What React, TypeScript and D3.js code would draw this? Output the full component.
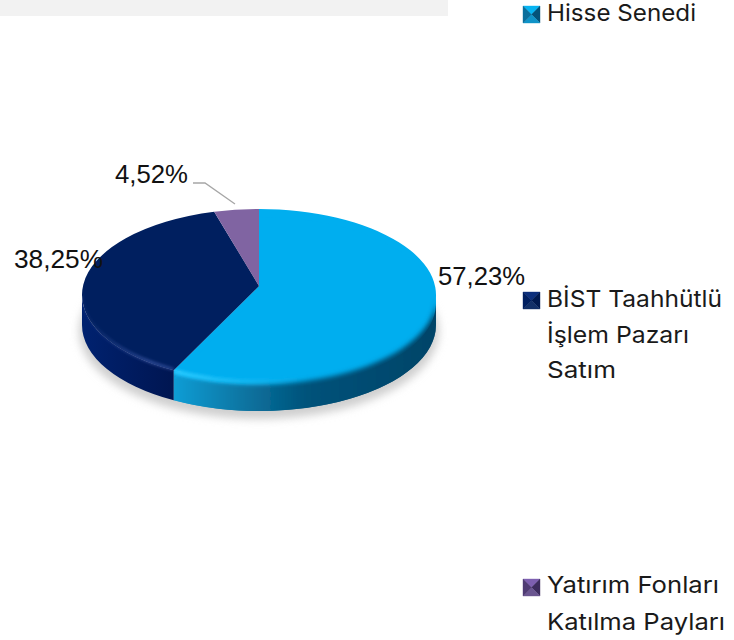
import React from "react";
import * as d3 from "d3";

const categories = ["Hisse Senedi", "BİST Taahhütlü İşlem Pazarı Satım", "Yatırım Fonları Katılma Payları"];
const values = [57.23, 38.25, 4.52];
const valueLabels = ["57,23%", "38,25%", "4,52%"];
const labelWidths = [87, 89, 73];
const topColors = ["#00aeef", "#001f5f", "#8064a2"];
const legendLines = [["Hisse Senedi"], ["BİST Taahhütlü", "İşlem Pazarı", "Satım"], ["Yatırım Fonları", "Katılma Payları"]];
const legendLineWidths = [[149], [175, 142, 69], [172, 178]];
const legendBaselines = [[21], [307, 343, 378], [593, 630]];
const markerTops = [6, 292, 579];
const markerShades = [
  ["#06b4f2", "#03527a", "#0f93c8", "#0a6f9c"],
  ["#0c2f7c", "#001a50", "#123068", "#001f60"],
  ["#7d5fb0", "#3d2c5e", "#6a5590", "#4f3b73"],
];
const labelPos = [[438, 285], [14, 268], [115, 183]];
const leader = [[193, 183], [205, 183], [235, 204]];

const W = 734, H = 640;
const cx = 259, cy = 295, rx = 177, ry = 86, depth = 30, apexX = 259, apexY = 286;
const b = (apexY - cy) / ry;

// perspective: maps the true circle angle on to the ellipse, keeping the centre at the apex
const rim = (a: number): [number, number] => {
  const u = Math.sin(a), v = -Math.cos(a);
  const den = 1 + b * v;
  return [cx + (rx * u * Math.sqrt(1 - b * b)) / den, cy + (ry * (v + b)) / den];
};

function sector(a0: number, a1: number) {
  const [x0, y0] = rim(a0);
  const [x1, y1] = rim(a1);
  const large = a1 - a0 > Math.PI ? 1 : 0;
  return `M${apexX},${apexY}L${x0},${y0}A${rx},${ry} 0 ${large} 1 ${x1},${y1}Z`;
}

const wall = (p: [number, number], q: [number, number]) =>
  `M${p[0]},${p[1]}A${rx},${ry} 0 0 1 ${q[0]},${q[1]}L${q[0]},${q[1] + depth}A${rx},${ry} 0 0 0 ${p[0]},${p[1] + depth}Z`;
const edge = (p: [number, number], q: [number, number]) => `M${p[0]},${p[1]}A${rx},${ry} 0 0 1 ${q[0]},${q[1]}`;

export default function App() {
  React.useEffect(() => {
    document.body.style.margin = "0";
  }, []);
  const arcs = d3.pie<number>().sort(null)(values);
  const line = d3.line();
  const right: [number, number] = [cx + rx, cy];
  const left: [number, number] = [cx - rx, cy];
  const split = rim(arcs[0].endAngle);
  const blueWall = wall(right, split);
  const navyWall = wall(split, left);
  const blueTop = sector(arcs[0].startAngle, arcs[0].endAngle);
  return (
    <svg width={W} height={H} style={{ display: "block", position: "absolute", left: 0, top: 0 }}>
      <defs>
        <filter id="blurS" x="-20%" y="-20%" width="140%" height="140%"><feGaussianBlur stdDeviation="4" /></filter>
        <filter id="blurW" x="-20%" y="-30%" width="140%" height="160%"><feGaussianBlur stdDeviation="2.4" /></filter>
        <filter id="blurH" x="-20%" y="-30%" width="140%" height="160%"><feGaussianBlur stdDeviation="1.6" /></filter>
        <linearGradient id="blueSide" gradientUnits="userSpaceOnUse" x1="177" y1="0" x2="436" y2="0">
          <stop offset="0" stopColor="#0b9bd3" />
          <stop offset="0.22" stopColor="#0a7aa8" />
          <stop offset="0.5" stopColor="#03527a" />
          <stop offset="1" stopColor="#004468" />
        </linearGradient>
        <linearGradient id="navySide" gradientUnits="userSpaceOnUse" x1="81" y1="0" x2="177" y2="0">
          <stop offset="0" stopColor="#002270" />
          <stop offset="1" stopColor="#001550" />
        </linearGradient>
        <linearGradient id="blueGlow" gradientUnits="userSpaceOnUse" x1="177" y1="0" x2="310" y2="0">
          <stop offset="0" stopColor="#25c8ff" stopOpacity="1" />
          <stop offset="1" stopColor="#25c8ff" stopOpacity="0" />
        </linearGradient>
        <linearGradient id="navyGlow" gradientUnits="userSpaceOnUse" x1="90" y1="0" x2="177" y2="0">
          <stop offset="0" stopColor="#3a55a5" stopOpacity="0.15" />
          <stop offset="0.7" stopColor="#3a55a5" stopOpacity="0.9" />
          <stop offset="1" stopColor="#3a55a5" stopOpacity="0.7" />
        </linearGradient>
        <clipPath id="blueClip"><path d={blueTop} /><path d={blueWall} /></clipPath>
        <clipPath id="navyClip"><path d={sector(arcs[1].startAngle, arcs[1].endAngle)} /><path d={navyWall} /></clipPath>
      </defs>

      <rect x={0} y={0} width={448} height={16} fill="#f2f2f2" />

      <ellipse cx={cx} cy={cy + depth + 6} rx={rx + 3} ry={ry + 2} fill="#cfcfcf" filter="url(#blurS)" />

      <path d={blueWall} fill="url(#blueSide)" />
      <path d={navyWall} fill="url(#navySide)" />

      {arcs.map((a, i) => (
        <path key={categories[i]} d={sector(a.startAngle, a.endAngle)} fill={topColors[i]} />
      ))}

      <g clipPath="url(#blueClip)">
        <path d={blueTop} fill={topColors[0]} transform="translate(0,8)" />
        <path d={blueWall} fill="url(#blueSide)" filter="url(#blurW)" transform="translate(0,3)" />
        <path d={edge(right, split)} fill="none" stroke="url(#blueGlow)" strokeWidth={5} filter="url(#blurH)" transform="translate(0,1)" />
      </g>
      <g clipPath="url(#navyClip)">
        <path d={edge(split, left)} fill="none" stroke="url(#navyGlow)" strokeWidth={2.5} filter="url(#blurH)" transform="translate(0,-1)" />
      </g>

      <path d={line(leader as [number, number][]) ?? ""} fill="none" stroke="#a6a6a6" strokeWidth={1.3} />

      {valueLabels.map((t, i) => (
        <text key={t} x={labelPos[i][0]} y={labelPos[i][1]} fontFamily="'Liberation Sans'" fontSize={25.6} fill="#111"
          textLength={labelWidths[i]} lengthAdjust="spacingAndGlyphs">{t}</text>
      ))}

      {categories.map((c, i) => {
        const x = 523, y = markerTops[i], s = 17;
        const m = [x + s / 2, y + s / 2];
        const corners = [[x, y], [x + s, y], [x + s, y + s], [x, y + s]];
        return (
          <g key={c}>
            {corners.map((p, k) => {
              const q = corners[(k + 1) % 4];
              return <path key={k} d={line([p, q, m] as [number, number][]) + "Z"} fill={markerShades[i][k]} stroke={markerShades[i][k]} strokeWidth={0.4} />;
            })}
            {legendLines[i].map((l, k) => (
              <text key={l} x={547} y={legendBaselines[i][k]} fontFamily="Inter" fontSize={23} fill="#1a1a1a"
                textLength={legendLineWidths[i][k]} lengthAdjust="spacingAndGlyphs">{l}</text>
            ))}
          </g>
        );
      })}
    </svg>
  );
}
